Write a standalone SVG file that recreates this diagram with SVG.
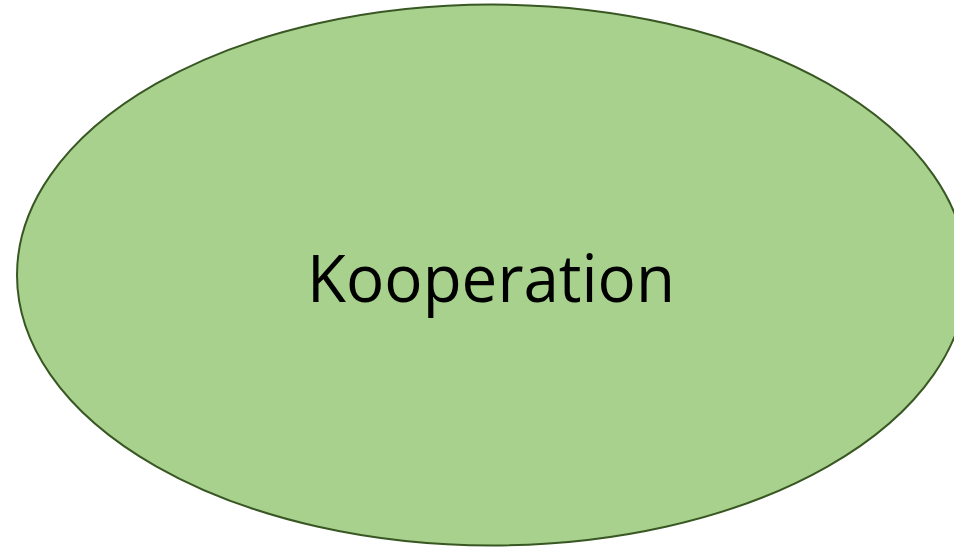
<svg xmlns="http://www.w3.org/2000/svg" width="954" height="549" viewBox="0 0 954 549">
<style>
.node-shape{fill:#A9D18E;stroke:#385723;stroke-width:2}
.label{font-family:"Open Sans","Noto Sans","Liberation Sans",sans-serif;font-size:66px;fill:#000}
</style>
<rect width="954" height="549" fill="#ffffff"/>
<g id="kooperation">
<ellipse class="node-shape" cx="492" cy="275" rx="475" ry="270.5"/>
<text class="label" x="491" y="302" text-anchor="middle" textLength="368" lengthAdjust="spacingAndGlyphs">Kooperation</text>
</g>
<g id="connectors"/>
</svg>
